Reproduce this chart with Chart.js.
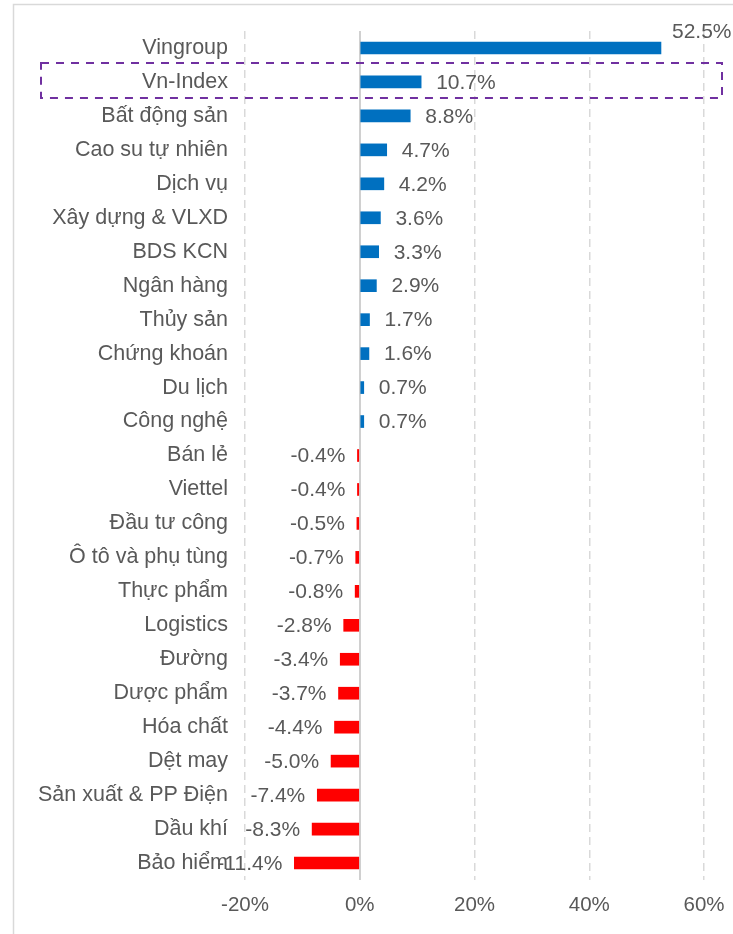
<!DOCTYPE html>
<html>
<head>
<meta charset="utf-8">
<script src="https://cdn.jsdelivr.net/npm/chart.js"></script>
<style>
  html, body { margin: 0; padding: 0; background: #fff; }
  canvas { display: block; }
</style>
</head>
<body>
<canvas id="sectorChart" width="733" height="934"></canvas>
<script>
// Dữ liệu
const categories = [
    'Vingroup', 'Vn-Index', 'Bất động sản', 'Cao su tự nhiên', 'Dịch vụ',
    'Xây dựng & VLXD', 'BDS KCN', 'Ngân hàng', 'Thủy sản', 'Chứng khoán',
    'Du lịch', 'Công nghệ', 'Bán lẻ', 'Viettel', 'Đầu tư công',
    'Ô tô và phụ tùng', 'Thực phẩm', 'Logistics', 'Đường', 'Dược phẩm',
    'Hóa chất', 'Dệt may', 'Sản xuất & PP Điện', 'Dầu khí', 'Bảo hiểm'
];
const changes = [
    52.5, 10.7, 8.8, 4.7, 4.2,
    3.6, 3.3, 2.9, 1.7, 1.6,
    0.7, 0.7, -0.4, -0.4, -0.5,
    -0.7, -0.8, -2.8, -3.4, -3.7,
    -4.4, -5.0, -7.4, -8.3, -11.4
];
const xTicks = [-20, 0, 20, 40, 60];
const highlighted = 'Vn-Index';

const TEXT = '#595959';
const GRID = '#d9d9d9';
const FONT = "'Liberation Sans', Arial, sans-serif";

Chart.defaults.font.family = FONT;
Chart.defaults.font.size = 20;
Chart.defaults.color = TEXT;

// Khung ngoài của biểu đồ
const framePlugin = {
    id: 'frame',
    beforeDraw(chart) {
        const { ctx, width, height } = chart;
        ctx.save();
        ctx.strokeStyle = GRID;
        ctx.lineWidth = 1.5;
        ctx.beginPath();
        ctx.moveTo(13.5, height);
        ctx.lineTo(13.5, 4.5);
        ctx.lineTo(width, 4.5);
        ctx.stroke();
        ctx.restore();
    }
};

// Nhãn giá trị + khung đánh dấu Vn-Index
const labelPlugin = {
    id: 'valueLabels',
    afterDatasetsDraw(chart) {
        const { ctx, chartArea } = chart;
        const meta = chart.getDatasetMeta(0);
        const yScale = chart.scales.y;
        const step = yScale.getPixelForValue(1) - yScale.getPixelForValue(0);

        ctx.save();
        ctx.font = `21px ${FONT}`;
        ctx.fillStyle = TEXT;
        ctx.textBaseline = 'middle';
        meta.data.forEach((bar, i) => {
            const v = changes[i];
            const text = v.toFixed(1) + '%';
            const w = ctx.measureText(text).width;
            let x = bar.x;
            let y = bar.y + 1;
            if (v >= 0) {
                ctx.textAlign = 'left';
                if (x + 15 + w > chartArea.right) {
                    // nhãn quá dài -> đẩy lên trên thanh
                    x += 11;
                    y -= step / 2;
                } else {
                    x += 15;
                }
            } else {
                ctx.textAlign = 'right';
                x -= 12;
            }
            ctx.fillText(text, x, y);
        });

        // khung nét đứt màu tím
        const idx = categories.indexOf(highlighted);
        const cy = yScale.getPixelForValue(idx);
        ctx.strokeStyle = '#7030A0';
        ctx.lineWidth = 2;
        ctx.setLineDash([8, 7]);
        ctx.strokeRect(41, cy - 19, chartArea.right + 18 - 41, step + 1);
        ctx.restore();
    }
};

new Chart(document.getElementById('sectorChart'), {
    type: 'bar',
    data: {
        labels: categories,
        datasets: [{
            data: changes,
            backgroundColor: changes.map(v => v >= 0 ? '#0070C0' : '#FF0000'),
            borderWidth: 0,
            barThickness: 12
        }]
    },
    options: {
        indexAxis: 'y',
        responsive: false,
        animation: false,
        layout: {
            padding: { top: 31, right: 29, bottom: 0, left: 0 }
        },
        plugins: {
            legend: { display: false },
            tooltip: { enabled: false }
        },
        scales: {
            x: {
                min: xTicks[0],
                max: xTicks[xTicks.length - 1],
                afterBuildTicks: (scale) => {
                    scale.ticks = xTicks.map(v => ({ value: v }));
                },
                afterFit: (scale) => {
                    scale.height = 54;
                    scale.paddingLeft = 0;
                    scale.paddingRight = 0;
                },
                grid: {
                    color: (c) => c.tick && c.tick.value === 0 ? '#d0d0d0' : GRID,
                    lineWidth: (c) => c.tick && c.tick.value === 0 ? 2 : 1.5,
                    drawTicks: false
                },
                border: {
                    display: false,
                    dash: (c) => c.tick && c.tick.value === 0 ? [] : [8, 5]
                },
                ticks: {
                    padding: 13,
                    color: TEXT,
                    font: { size: 20.5 },
                    callback: (v) => v + '%'
                }
            },
            y: {
                afterFit: (scale) => { scale.width = 245; },
                grid: { display: false, drawTicks: false },
                border: { display: false },
                ticks: {
                    padding: 17,
                    color: TEXT,
                    font: { size: 21.5 },
                    autoSkip: false
                }
            }
        }
    },
    plugins: [framePlugin, labelPlugin]
});
</script>
</body>
</html>
